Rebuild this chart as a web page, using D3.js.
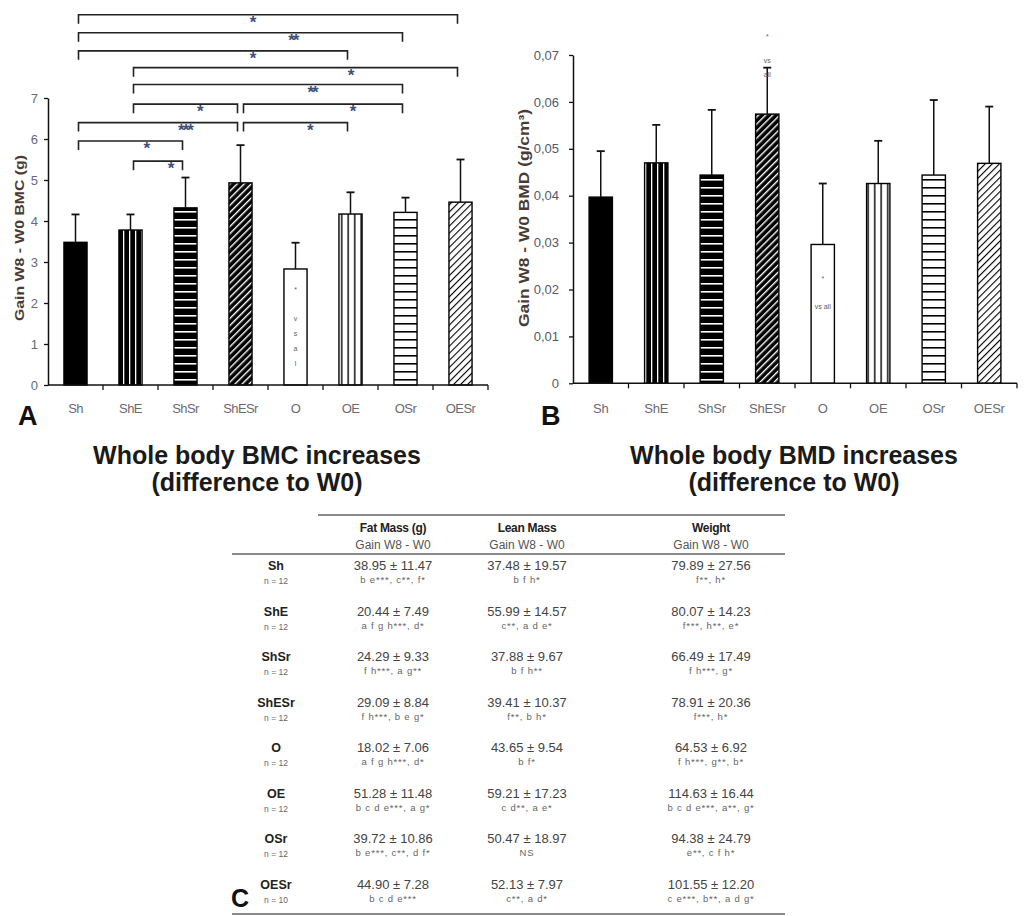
<!DOCTYPE html>
<html>
<head>
<meta charset="utf-8">
<script src="https://cdn.jsdelivr.net/npm/d3@7"></script>
<style>
  body { margin: 0; background: #fff; }
  text { font-family: 'Liberation Sans', Arial, sans-serif; }
  .narrow { font-family: 'Liberation Sans Narrow', 'Arial Narrow', 'Liberation Sans', sans-serif; }
</style>
</head>
<body>
<div id="chart"></div>
<script>
// groups (same order in both panels and in the table)
const groups = ['Sh', 'ShE', 'ShSr', 'ShESr', 'O', 'OE', 'OSr', 'OESr'];
const fills = ['solid', 'vBlack', 'hBlack', 'dBlack', 'white', 'vWhite', 'hWhite', 'dWhite'];

// panel A : BMC gain (g)
const bmcMean = [3.48, 3.78, 4.32, 4.93, 2.83, 4.17, 4.21, 4.46];
const bmcSD = [0.68, 0.38, 0.74, 0.92, 0.64, 0.53, 0.36, 1.04];
const bmcTicks = [0, 1, 2, 3, 4, 5, 6, 7];

// significance brackets of panel A (group indexes, level in g, star position as group index)
const bmcBrackets = [
  { from: 0, to: 7, level: 9.03, label: '*', at: 3.21 },
  { from: 0, to: 6, level: 8.59, label: '**', at: 3.95 },
  { from: 0, to: 5, level: 8.15, label: '*', at: 3.21 },
  { from: 1, to: 7, level: 7.74, label: '*', at: 4.99 },
  { from: 1, to: 6, level: 7.33, label: '**', at: 4.3 },
  { from: 1, to: 3, level: 6.85, label: '*', at: 2.25 },
  { from: 3, to: 6, level: 6.85, label: '*', at: 5.03 },
  { from: 0, to: 3, level: 6.40, label: '***', at: 1.99 },
  { from: 3, to: 5, level: 6.40, label: '*', at: 4.25 },
  { from: 0, to: 2, level: 5.95, label: '*', at: 1.28 },
  { from: 1, to: 2, level: 5.46, label: '*', at: 1.72 }
];

// panel B : BMD gain (g/cm2)
const bmdMean = [0.0397, 0.0470, 0.0444, 0.0574, 0.0296, 0.0426, 0.0444, 0.0469];
const bmdSD = [0.0098, 0.0081, 0.0139, 0.0099, 0.0130, 0.0091, 0.0160, 0.0121];
const bmdTicks = [0, 0.01, 0.02, 0.03, 0.04, 0.05, 0.06, 0.07];

// panel C : table
const nCounts = [12, 12, 12, 12, 12, 12, 12, 10];
const fatMean = ['38.95', '20.44', '24.29', '29.09', '18.02', '51.28', '39.72', '44.90'];
const fatSD = ['11.47', '7.49', '9.33', '8.84', '7.06', '11.48', '10.86', '7.28'];
const fatSig = ['b e***, c**, f*', 'a f g h***, d*', 'f h***, a g**', 'f h***, b e g*',
  'a f g h***, d*', 'b c d e***, a g*', 'b e***, c**, d f*', 'b c d e***'];
const leanMean = ['37.48', '55.99', '37.88', '39.41', '43.65', '59.21', '50.47', '52.13'];
const leanSD = ['19.57', '14.57', '9.67', '10.37', '9.54', '17.23', '18.97', '7.97'];
const leanSig = ['b f h*', 'c**, a d e*', 'b f h**', 'f**, b h*', 'b f*', 'c d**, a e*', 'NS', 'c**, a d*'];
const weightMean = ['79.89', '80.07', '66.49', '78.91', '64.53', '114.63', '94.38', '101.55'];
const weightSD = ['27.56', '14.23', '17.49', '20.36', '6.92', '16.44', '24.79', '12.20'];
const weightSig = ['f**, h*', 'f***, h**, e*', 'f h***, g*', 'f***, h*', 'f h***, g**, b*',
  'b c d e***, a**, g*', 'e**, c f h*', 'c e***, b**, a d g*'];
const tableColumns = ['Fat Mass (g)', 'Lean Mass', 'Weight'];

const svg = d3.select('#chart')
  .append('svg')
  .attr('width', 1025)
  .attr('height', 916);

// bar patterns
const defs = svg.append('defs');
function stripes(id, bg, fg, w, h, rect, rotate) {
  const p = defs.append('pattern')
    .attr('id', id)
    .attr('patternUnits', 'userSpaceOnUse')
    .attr('width', w)
    .attr('height', h);
  if (rotate) p.attr('patternTransform', `rotate(${rotate})`);
  p.append('rect').attr('width', w).attr('height', h).attr('fill', bg);
  p.append('rect').attr('x', rect[0]).attr('y', rect[1]).attr('width', rect[2]).attr('height', rect[3]).attr('fill', fg);
}
stripes('vBlack', '#000', '#fff', 6, 10, [3, 0, 1.3, 10]);
stripes('hBlack', '#000', '#fff', 10, 8, [0, 3, 10, 1.6]);
stripes('dBlack', '#000', '#fff', 5, 10, [2, 0, 1.4, 10], 45);
stripes('vWhite', '#fff', '#000', 6.5, 10, [3, 0, 1.4, 10]);
stripes('hWhite', '#fff', '#000', 10, 8, [0, 3, 10, 1.6]);
stripes('dWhite', '#fff', '#000', 5, 10, [2, 0, 1.1, 10], 45);

const fillOf = f => f === 'solid' ? '#000' : f === 'white' ? '#fff' : `url(#${f})`;

function drawPanel(o) {
  const x = d3.scaleBand().domain(groups).range([o.x0, o.x1]).padding(0);
  const y = d3.scaleLinear().domain([0, o.ticks[o.ticks.length - 1]]).range(o.yRange);
  const g = svg.append('g');
  const barW = x.bandwidth() * 0.42;

  // bars
  g.selectAll('rect.bar')
    .data(groups)
    .enter()
    .append('rect')
    .attr('class', 'bar')
    .attr('x', d => x(d) + (x.bandwidth() - barW) / 2)
    .attr('width', barW)
    .attr('y', (d, i) => y(o.mean[i]))
    .attr('height', (d, i) => y(0) - y(o.mean[i]))
    .attr('fill', (d, i) => fillOf(fills[i]))
    .attr('stroke', '#000')
    .attr('stroke-width', 1.4);

  // upper error bars
  const eb = g.selectAll('g.err').data(groups).enter().append('g').attr('class', 'err');
  eb.append('line')
    .attr('x1', d => x(d) + x.bandwidth() / 2)
    .attr('x2', d => x(d) + x.bandwidth() / 2)
    .attr('y1', (d, i) => y(o.mean[i]))
    .attr('y2', (d, i) => y(o.mean[i] + o.sd[i]))
    .attr('stroke', '#111').attr('stroke-width', 1.5);
  eb.append('line')
    .attr('x1', d => x(d) + x.bandwidth() / 2 - 4)
    .attr('x2', d => x(d) + x.bandwidth() / 2 + 4)
    .attr('y1', (d, i) => y(o.mean[i] + o.sd[i]))
    .attr('y2', (d, i) => y(o.mean[i] + o.sd[i]))
    .attr('stroke', '#111').attr('stroke-width', 1.8);

  // y axis
  const yAxis = g.append('g')
    .attr('transform', `translate(${o.x0},0)`)
    .call(d3.axisLeft(y).tickValues(o.ticks).tickSize(4).tickSizeOuter(0).tickPadding(o.pad).tickFormat(o.fmt));
  yAxis.select('.domain').attr('stroke', '#111').attr('stroke-width', 1.5);
  yAxis.selectAll('.tick line').attr('stroke', '#111').attr('stroke-width', 1.3);
  yAxis.selectAll('.tick text')
    .attr('class', 'narrow')
    .style('font-size', o.tickFont + 'px')
    .attr('fill', o.tickColor);

  // x axis: baseline and band boundary ticks
  g.append('line')
    .attr('x1', o.x0).attr('x2', o.x1)
    .attr('y1', y(0)).attr('y2', y(0))
    .attr('stroke', '#111').attr('stroke-width', 1.5);
  g.selectAll('line.xtick')
    .data(groups.slice(1).concat(['__end']))
    .enter()
    .append('line')
    .attr('class', 'xtick')
    .attr('x1', d => d === '__end' ? o.x1 : x(d))
    .attr('x2', d => d === '__end' ? o.x1 : x(d))
    .attr('y1', y(0)).attr('y2', y(0) + 5)
    .attr('stroke', '#111').attr('stroke-width', 1.3);
  g.selectAll('text.xlab')
    .data(groups)
    .enter()
    .append('text')
    .attr('class', 'narrow')
    .attr('x', d => x(d) + x.bandwidth() / 2)
    .attr('y', 413)
    .attr('text-anchor', 'middle')
    .style('font-size', '13px')
    .style('letter-spacing', o.labelSpacing)
    .attr('fill', '#6a6a72')
    .text(d => d);

  // y caption
  g.append('text')
    .attr('transform', `translate(${o.capX},${o.capY}) rotate(-90)`)
    .attr('text-anchor', 'middle')
    .style('font-size', o.capFont + 'px')
    .style('font-weight', 'bold')
    .attr('textLength', o.capLen)
    .attr('lengthAdjust', 'spacingAndGlyphs')
    .attr('fill', '#4a3c34')
    .text(o.caption);

  // panel letter
  g.append('text')
    .attr('x', o.letterX).attr('y', 425)
    .style('font-size', '27px').style('font-weight', 'bold')
    .attr('fill', '#111')
    .text(o.letter);

  // title
  o.title.forEach((t, i) => {
    g.append('text')
      .attr('x', o.titleX).attr('y', 464 + i * 27)
      .attr('text-anchor', 'middle')
      .style('font-size', '25px').style('font-weight', 'bold')
      .attr('fill', '#1a1a1a')
      .text(t);
  });
  return { g, x, y };
}

const A = drawPanel({
  x0: 48, x1: 488, yRange: [385, 98], ticks: bmcTicks, mean: bmcMean, sd: bmcSD,
  fmt: d3.format('d'), pad: 6, tickFont: 13, tickColor: '#646a84', labelSpacing: '-0.6px',
  caption: 'Gain W8 - W0 BMC (g)', capX: 24, capY: 238, capFont: 13, capLen: 166,
  letter: 'A', letterX: 18, titleX: 257,
  title: ['Whole body BMC increases', '(difference to W0)']
});

const B = drawPanel({
  x0: 573, x1: 1017, yRange: [383.3, 55], ticks: bmdTicks, mean: bmdMean, sd: bmdSD,
  fmt: v => v === 0 ? '0' : d3.format('.2f')(v).replace('.', ','), pad: 10, tickFont: 13,
  tickColor: '#55586a', labelSpacing: '-0.2px',
  caption: 'Gain W8 - W0 BMD (g/cm³)', capX: 529, capY: 218, capFont: 15, capLen: 218,
  letter: 'B', letterX: 541, titleX: 794,
  title: ['Whole body BMD increases', '(difference to W0)']
});

// significance brackets in panel A
const cx = i => A.x(groups[i]) + A.x.bandwidth() / 2;
const xAt = v => A.x(groups[0]) + (v + 0.5) * A.x.step();
const br = A.g.selectAll('g.bracket').data(bmcBrackets).enter().append('g');
br.append('path')
  .attr('d', d => {
    const y0 = A.y(d.level);
    return `M${cx(d.from) + 3},${y0 + 9}V${y0}H${cx(d.to) - 3}V${y0 + 9}`;
  })
  .attr('fill', 'none')
  .attr('stroke', '#222')
  .attr('stroke-width', 1.6);
br.append('text')
  .attr('x', d => xAt(d.at))
  .attr('y', d => A.y(d.level))
  .attr('dy', '0.78em')
  .attr('text-anchor', 'middle')
  .style('font-size', '17px')
  .style('font-weight', 'bold')
  .style('letter-spacing', '-2px')
  .attr('fill', '#3e5078')
  .text(d => d.label);

// tiny "* vs all" notes
function note(panel, gi, value, lines) {
  const xc = panel.x(groups[gi]) + panel.x.bandwidth() / 2;
  lines.forEach(l => {
    panel.g.append('text')
      .attr('x', xc).attr('y', panel.y(value) + l[1])
      .attr('text-anchor', 'middle')
      .style('font-size', '7px')
      .attr('fill', '#6a5a5a')
      .text(l[0]);
  });
}
note(A, 4, 0, [['*', -93], ['v', -64], ['s', -49], ['a', -34], ['l', -19]]);
note(B, 3, 0.07, [['*', -16], ['vs', 8], ['all', 22]]);
note(B, 4, 0, [['*', -102], ['vs all', -74]]);

// table (panel C)
const rowY = d3.scalePoint().domain(groups).range([566, 885]);
const colPos = { label: 276, 'Fat Mass (g)': 393, 'Lean Mass': 527, 'Weight': 711 };
const table = svg.append('g');

table.append('line').attr('x1', 318).attr('x2', 785).attr('y1', 515).attr('y2', 515)
  .attr('stroke', '#8a8a8a').attr('stroke-width', 2);
table.append('line').attr('x1', 232).attr('x2', 785).attr('y1', 554).attr('y2', 554)
  .attr('stroke', '#8a8a8a').attr('stroke-width', 2);
table.append('line').attr('x1', 232).attr('x2', 785).attr('y1', 914).attr('y2', 914)
  .attr('stroke', '#8a8a8a').attr('stroke-width', 2);

tableColumns.forEach(c => {
  table.append('text')
    .attr('x', colPos[c]).attr('y', 532)
    .attr('text-anchor', 'middle')
    .style('font-size', '12px').style('font-weight', 'bold').style('letter-spacing', '-0.3px')
    .attr('fill', '#222')
    .text(c);
  table.append('text')
    .attr('x', colPos[c]).attr('y', 549)
    .attr('text-anchor', 'middle')
    .style('font-size', '12px')
    .attr('fill', '#555')
    .text('Gain W8 - W0');
});

const cols = [
  { name: 'Fat Mass (g)', mean: fatMean, sd: fatSD, sig: fatSig },
  { name: 'Lean Mass', mean: leanMean, sd: leanSD, sig: leanSig },
  { name: 'Weight', mean: weightMean, sd: weightSD, sig: weightSig }
];

groups.forEach((gname, i) => {
  const yy = rowY(gname);
  table.append('text')
    .attr('x', colPos.label).attr('y', yy + 4)
    .attr('text-anchor', 'middle')
    .style('font-size', '12.5px').style('font-weight', 'bold')
    .attr('fill', '#222')
    .text(gname);
  table.append('text')
    .attr('x', colPos.label).attr('y', yy + 18)
    .attr('text-anchor', 'middle')
    .style('font-size', '8.5px')
    .attr('fill', '#666')
    .text(`n = ${nCounts[i]}`);
  cols.forEach(c => {
    table.append('text')
      .attr('x', colPos[c.name]).attr('y', yy + 4)
      .attr('text-anchor', 'middle')
      .style('font-size', '13px')
      .attr('fill', '#444')
      .text(`${c.mean[i]} ± ${c.sd[i]}`);
    table.append('text')
      .attr('x', colPos[c.name]).attr('y', yy + 17)
      .attr('text-anchor', 'middle')
      .style('font-size', '9.5px')
      .style('letter-spacing', '0.8px')
      .attr('fill', '#666')
      .text(c.sig[i]);
  });
});

table.append('text')
  .attr('x', 231).attr('y', 907)
  .style('font-size', '25px').style('font-weight', 'bold')
  .attr('fill', '#111')
  .text('C');
</script>
</body>
</html>
